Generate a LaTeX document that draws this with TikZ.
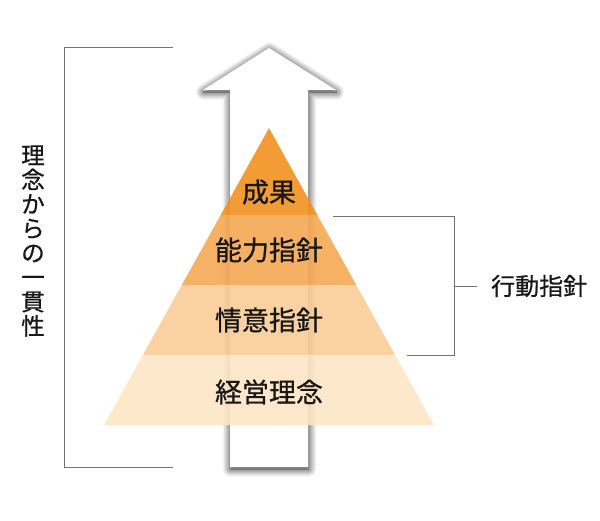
\documentclass[tikz,border=0pt]{standalone}
\usepackage{fontspec}
\setmainfont[FakeBold=0.8]{Noto Sans CJK JP}
\usepackage{tikz}
\usetikzlibrary{positioning, calc, shadows.blur}
\definecolor{pyr_top}{RGB}{242, 146, 32}
\definecolor{pyr_two}{RGB}{246, 168, 84}
\definecolor{pyr_three}{RGB}{250, 204, 150}
\definecolor{pyr_base}{RGB}{253, 229, 198}
\definecolor{ink}{RGB}{24, 24, 24}

\begin{document}
\begin{tikzpicture}[x=1pt, y=-1pt,
      layer/.style={fill opacity=0.9, draw=none},
      level/.style={text=ink, inner sep=0pt, font=\fontsize{27}{30}\selectfont},
      tag/.style={text=ink, inner sep=0pt, align=center, font=\fontsize{24}{24.4}\selectfont},
      bracket/.style={draw=black!55, line width=0.8pt}]
    \useasboundingbox (0,0) rectangle (600,520);
    % upward arrow behind the pyramid
    \path[fill=white, blur shadow={shadow xshift=0.5pt, shadow yshift=-2pt,
        shadow blur radius=8pt, shadow blur steps=10, shadow opacity=90}]
      (230,467) -- (230,90) -- (203,90) -- (269,48) -- (336,90) -- (308,90) -- (308,467) -- cycle;
    % pyramid
    \coordinate (apex) at (269,128);
    \coordinate (bl) at (104,425);
    \coordinate (br) at (434,425);
    \fill[layer, pyr_top] (apex) -- ($(apex)!{87/297}!(br)$) -- ($(apex)!{87/297}!(bl)$) -- cycle;
    \fill[layer, pyr_two] ($(apex)!{87/297}!(bl)$) -- ($(apex)!{87/297}!(br)$)
      -- ($(apex)!{157/297}!(br)$) -- ($(apex)!{157/297}!(bl)$) -- cycle;
    \fill[layer, pyr_three] ($(apex)!{157/297}!(bl)$) -- ($(apex)!{157/297}!(br)$)
      -- ($(apex)!{227/297}!(br)$) -- ($(apex)!{227/297}!(bl)$) -- cycle;
    \fill[layer, pyr_base] ($(apex)!{227/297}!(bl)$) -- ($(apex)!{227/297}!(br)$)
      -- (br) -- (bl) -- cycle;
    \node[level] (seika)   at (269,192) {成果};
    \node[level] (noryoku) at (269,250) {能力指針};
    \node[level] (joi)     at (269,320) {情意指針};
    \node[level] (keiei)   at (269,392) {経営理念};
    % left bracket
    \coordinate (lt) at (173,47);
    \coordinate (lb) at (173,467);
    \draw[bracket] (lt) -- (64,47) -- (64,467) -- (lb);
    \node[tag, font=\fontsize{23.5}{24.4}\selectfont] (ikkan) at (33,241)
      {理\\念\\か\\ら\\の\\一\\貫\\性};
    % right bracket
    \coordinate (rt) at (333,216);
    \coordinate (rb) at (407,355);
    \coordinate (rm) at (454,286);
    \draw[bracket] (rt) -- (454,216) -- (454,355) -- (rb);
    \node[tag, anchor=west] (kodo) at (491,286) {行動指針};
    \draw[bracket] (rm) -- ([xshift=-14pt]kodo.west);
\end{tikzpicture}
\end{document}
